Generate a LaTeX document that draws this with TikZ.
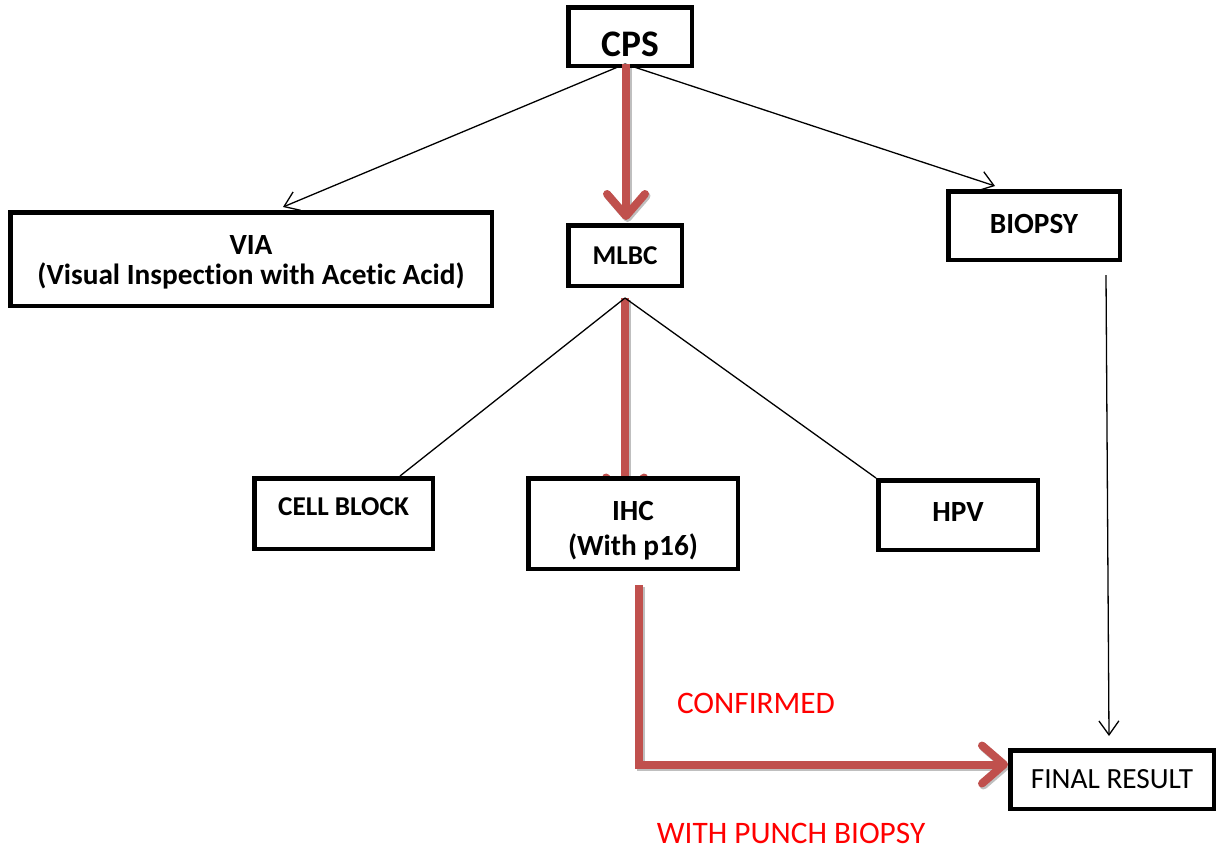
\documentclass[tikz,border=0pt]{standalone}
\usepackage{fontspec}
\setmainfont{Carlito}[Ligatures=CommonOff]
\usetikzlibrary{arrows.meta,backgrounds}
\definecolor{redarrow}{RGB}{192,80,77}
\definecolor{redtext}{RGB}{255,0,0}

\tikzset{
    box/.style={draw, line width=4.5pt, fill=white, inner sep=0pt, align=center,
        font=\bfseries\fontsize{29.3}{30}\selectfont},
    thin line/.style={line width=1.3pt},
    thin arrow/.style={thin line, -{Straight Barb[length=14pt,width=20pt]}},
    red arrow/.style={line width=8pt, draw=redarrow,
        preaction={draw=black, opacity=.25, line width=8pt,
            transform canvas={shift={(1.5pt,-2pt)}}},
        -{Straight Barb[length=22pt,width=38pt,round]}},
    note/.style={text=redtext, font=\fontsize{31.3}{36}\selectfont},
}

\begin{document}
\begin{tikzpicture}[x=1pt, y=-1pt]
        \useasboundingbox (0, 0) rectangle (1216, 849);
        \node[box, minimum width=123.5pt, minimum height=58.5pt, text height=41pt,
            font=\bfseries\fontsize{37.5}{40}\selectfont] (cps) at (630, 36.5) {CPS};
        \node[box, minimum width=481.5pt, minimum height=93.5pt, text height=55pt] (via) at (251, 259)
            {VIA\\(Visual Inspection with Acetic Acid)};
        \node[box, minimum width=113.5pt, minimum height=60.5pt,
            font=\bfseries\fontsize{27.2}{30}\selectfont] (mlbc) at (625, 255.5) {MLBC};
        \node[box, minimum width=171.5pt, minimum height=68.5pt, text depth=4pt] (biopsy) at (1034, 225.5) {BIOPSY};
        \node[box, minimum width=178.5pt, minimum height=70.5pt, text depth=13pt,
            font=\bfseries\fontsize{27.2}{30}\selectfont] (cell) at (343.5, 513.5) {CELL BLOCK};
        \node[box, minimum width=209.5pt, minimum height=90.5pt, text height=69pt,
            font=\bfseries\fontsize{29.3}{35}\selectfont] (ihc) at (633, 523.5) {IHC\\(With p16)};
        \node[box, minimum width=159.5pt, minimum height=69.5pt, text depth=6pt] (hpv) at (958, 515) {HPV};
        \node[box, minimum width=203.5pt, minimum height=58.5pt,
            font=\fontsize{29.3}{31}\selectfont] (final) at (1112, 779.5) {FINAL RESULT};
        \coordinate (fork) at ([yshift=-10pt]mlbc.south);

        \draw[thin arrow] ([xshift=-5pt,yshift=4pt]cps.south) -- ([xshift=32pt,yshift=3pt]via.north);
        \draw[thin arrow] ([xshift=-5pt,yshift=4pt]cps.south) -- ([xshift=-39pt,yshift=3pt]biopsy.north);
        \draw[thin line] (fork) -- ([xshift=56.5pt]cell.north);
        \draw[thin line] (fork) -- (hpv.north west);
        \draw[thin arrow] ([xshift=72pt,yshift=-13pt]biopsy.south) -- ([xshift=-3pt,yshift=12pt]final.north);

        \draw[red arrow] ([xshift=-4pt,yshift=4pt]cps.south) -- ([xshift=1pt,yshift=3pt]mlbc.north);
        \begin{scope}[on background layer]
            \draw[red arrow] (fork) -- ([yshift=20pt]fork |- ihc.center);
        \end{scope}
        \draw[red arrow] ([xshift=6pt,yshift=-14pt]ihc.south) |- ([yshift=15pt]final.west);

        \node[note] (confirmed) at (756, 703) {CONFIRMED};
        \node[note] (punch) at (791, 833) {WITH PUNCH BIOPSY};
    \end{tikzpicture}
\end{document}
